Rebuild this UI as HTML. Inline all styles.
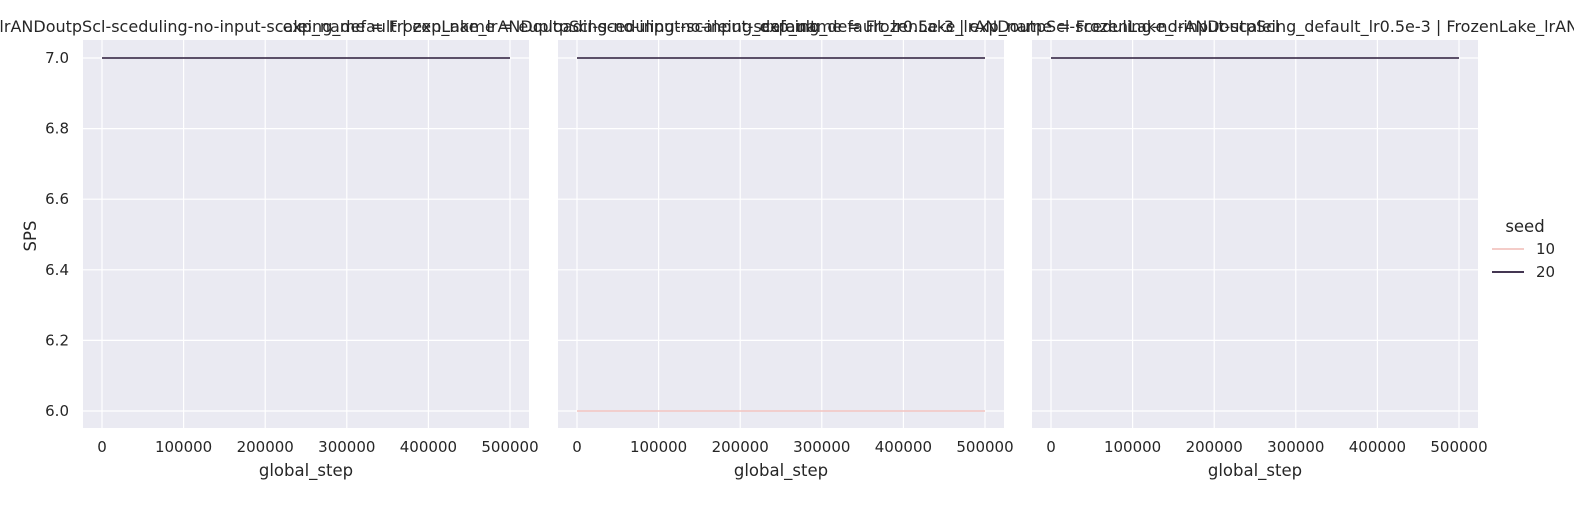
<!DOCTYPE html>
<html><head><meta charset="utf-8"><style>
body{margin:0;background:#fff;font-family:"Liberation Sans","DejaVu Sans",sans-serif;}
svg text{font-family:"DejaVu Sans","Liberation Sans",sans-serif;fill:#262626;}
</style></head><body>
<svg id="chart" width="1574" height="500" xmlns="http://www.w3.org/2000/svg"></svg>
<script>
const xTicks=[0,100000,200000,300000,400000,500000];
const yTicks=[6.0,6.2,6.4,6.6,6.8,7.0];
const seeds=["10","20"];
const seedColors=["#f2c4c0","#2a1a3a"];
const stepsX=[0,500000];
const panelTitles=[
"exp_name = FrozenLake_lrANDoutpScl-sceduling-no-input-scaleing_default | exp_name = euploading-no-input-scaleing_default",
"exp_name = FrozenLake_lrANDoutpScl-sceduling-no-input-scaleing_default_lr0.5e-3 | exp_name = FrozenLake_lrANDoutpScl",
"exp_name = FrozenLake_lrANDoutpScl-sceduling-no-input-scaleing_default_lr0.5e-3 | FrozenLake_lrANDoutpScl-sceduling_n"];
const panelSeed10=[null,[6.0,6.0],null];
const panelSeed20=[[7.0,7.0],[7.0,7.0],[7.0,7.0]];
const panelLeft=[83,558,1032];
const ns="http://www.w3.org/2000/svg";
const svg=document.getElementById('chart');
function mk(t,a,p){const e=document.createElementNS(ns,t);for(const k in a)e.setAttribute(k,a[k]);(p||svg).appendChild(e);return e;}
const W=446,plotTop=40,plotBot=428;
const yS=v=>411-(v-6.0)/1.0*353;
panelLeft.forEach((L,i)=>{
  const xS=v=>L+19+v/500000*408;
  const g=mk('g',{});
  
  
  const bg=mk('rect',{x:L,y:plotTop,width:W,height:plotBot-plotTop,fill:'#eaeaf2'},g);
  
  
  xTicks.forEach(t=>{
    mk('line',{x1:xS(t),x2:xS(t),y1:plotTop,y2:plotBot,stroke:'#fff','stroke-width':1.2},g);
    const tx=mk('text',{x:xS(t),y:452,'text-anchor':'middle','font-size':15},g);tx.textContent=t;
    
    
  });
  yTicks.forEach(t=>{
    mk('line',{x1:L,x2:L+W,y1:yS(t),y2:yS(t),stroke:'#fff','stroke-width':1.2},g);
    if(i===0){const ty=mk('text',{x:L-14,y:yS(t)+5,'text-anchor':'end','font-size':15},g);ty.textContent=t.toFixed(1);
    
    }
  });
  [panelSeed10[i],panelSeed20[i]].forEach((s,k)=>{
    if(!s)return;
    const ln=mk('polyline',{points:s.map((v,j)=>xS(stepsX[j])+','+yS(v)).join(' '),fill:'none',stroke:seedColors[k],'stroke-width':1.6},g);
    
    
  });
  const xl=mk('text',{x:L+W/2,y:476,'text-anchor':'middle','font-size':16.5},g);xl.textContent='global_step';
  
  
  const tt=mk('text',{x:L+W/2,y:32,'text-anchor':'middle','font-size':16},g);tt.textContent=panelTitles[i];
  
  
});
const yl=mk('text',{x:36,y:236,'text-anchor':'middle','font-size':16.5,transform:'rotate(-90 36 236)'});yl.textContent='SPS';


const lg=mk('g',{});


const lt=mk('text',{x:1525,y:232,'text-anchor':'middle','font-size':16.5},lg);lt.textContent='seed';
seeds.forEach((s,k)=>{
  const y=249+k*23;
  const e=mk('g',{},lg);
  
  
  mk('line',{x1:1492,x2:1524,y1:y,y2:y,stroke:seedColors[k],'stroke-width':1.8},e);
  const t=mk('text',{x:1536,y:y+5,'font-size':15},e);t.textContent=s;
});
</script>
</body></html>
